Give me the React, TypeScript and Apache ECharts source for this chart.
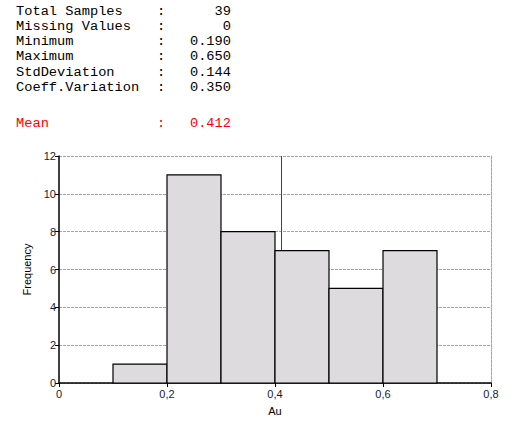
import React, { useEffect, useRef } from "react";
import * as echarts from "echarts";

const binStarts = [0.1, 0.2, 0.3, 0.4, 0.5, 0.6];
const binWidth = 0.1;
const counts = [1, 11, 8, 7, 5, 7];
const meanValue = 0.412;
const statLabels = ["Total Samples", "Missing Values", "Minimum", "Maximum", "StdDeviation", "Coeff.Variation"];
const statValues = ["39", "0", "0.190", "0.650", "0.144", "0.350"];
const meanLabel = "Mean";
const meanText = "0.412";

export default function App() {
  const ref = useRef<HTMLDivElement>(null);
  useEffect(() => {
    const chart = echarts.init(ref.current!, null, { renderer: "svg" });
    const mono = "Liberation Mono";
    const font = `13.7px '${mono}'`;
    const rowsY = [11, 26, 41, 56, 72, 87];
    const graphics: any[] = [];
    const addRow = (label: string, value: string, y: number, fill: string) => {
      graphics.push({ type: "text", x: 16, y, style: { text: label, font, fill, align: "left", verticalAlign: "middle" } });
      graphics.push({ type: "text", x: 157, y, style: { text: ":", font, fill, align: "left", verticalAlign: "middle" } });
      graphics.push({ type: "text", x: 231, y, style: { text: value, font, fill, align: "right", verticalAlign: "middle" } });
    };
    statLabels.forEach((l, i) => addRow(l, statValues[i], rowsY[i], "#000"));
    addRow(meanLabel, meanText, 123, "#ff0000");

    const data = binStarts.map((s, i) => [s, s + binWidth, counts[i]]);
    const labelFont = { fontFamily: "Liberation Sans", fontSize: 11, color: "#1a1a33" };

    chart.setOption({
      animation: false,
      backgroundColor: "#fff",
      graphic: graphics,
      grid: { left: 59, right: 22, top: 156, bottom: 58 },
      xAxis: {
        type: "value",
        min: 0,
        max: 0.8,
        interval: 0.2,
        name: "Au",
        nameLocation: "middle",
        nameGap: 22,
        nameTextStyle: { fontFamily: "Liberation Sans", fontSize: 11, color: "#000" },
        axisLine: { lineStyle: { color: "#000", width: 1.5 } },
        axisTick: { show: true, length: 4, lineStyle: { color: "#000" } },
        axisLabel: { ...labelFont, margin: 5, formatter: (v: number) => (v === 0 ? "0" : v.toFixed(1).replace(".", ",")) },
        splitLine: { show: false },
      },
      yAxis: [
        {
          type: "value",
          min: 0,
          max: 12,
          interval: 2,
          name: "Frequency",
          nameLocation: "middle",
          nameGap: 27,
          nameRotate: 90,
          nameTextStyle: { fontFamily: "Liberation Sans", fontSize: 11, color: "#000" },
          axisLine: { show: true, lineStyle: { color: "#000", width: 1.5 } },
          axisTick: { show: true, length: 4, lineStyle: { color: "#000" } },
          axisLabel: { ...labelFont, margin: 3 },
          splitLine: { show: true, lineStyle: { color: "#a8a0b0", type: [3, 1], width: 1 } },
        },
        {
          type: "value",
          position: "right",
          min: 0,
          max: 12,
          interval: 2,
          axisLine: { show: true, lineStyle: { color: "#a8a0b0", type: [3, 1], width: 1 } },
          axisTick: { show: false },
          axisLabel: { show: false },
          splitLine: { show: false },
        },
      ],
      series: [
        {
          type: "custom",
          z: 2,
          data: [[meanValue, 12]],
          encode: { x: 0, y: 1 },
          renderItem: (params: any, api: any) => {
            const top = api.coord([api.value(0), api.value(1)]);
            const bottom = api.coord([api.value(0), 0]);
            return {
              type: "line",
              shape: { x1: Math.round(top[0]) + 0.5, y1: top[1], x2: Math.round(bottom[0]) + 0.5, y2: bottom[1] },
              style: { stroke: "#e00000", lineWidth: 1 },
            };
          },
        },
        {
          type: "custom",
          z: 5,
          data,
          encode: { x: [0, 1], y: 2 },
          renderItem: (params: any, api: any) => {
            const p0 = api.coord([api.value(0), api.value(2)]);
            const p1 = api.coord([api.value(1), 0]);
            return {
              type: "rect",
              shape: { x: p0[0], y: p0[1], width: p1[0] - p0[0], height: p1[1] - p0[1] },
              style: { fill: "#dedbdf", stroke: "#000", lineWidth: 1.2 },
            };
          },
        },
      ],
    });
    return () => chart.dispose();
  }, []);
  return <div ref={ref} style={{ position: "fixed", left: 0, top: 0, width: 513, height: 441 }} />;
}
